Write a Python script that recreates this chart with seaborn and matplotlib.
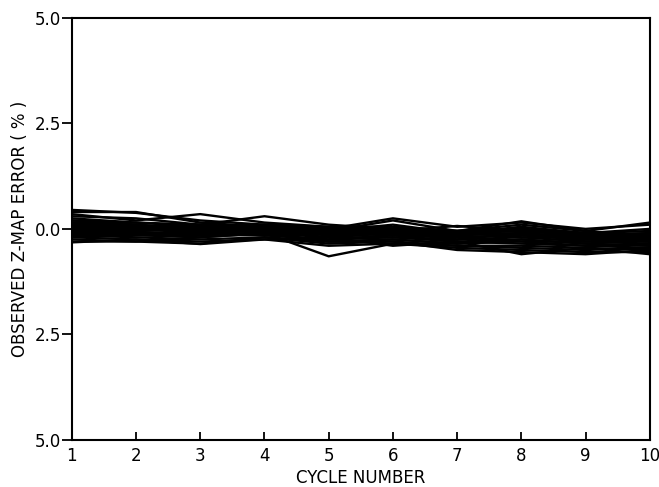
import numpy as np
import pandas as pd
import matplotlib
matplotlib.use("Agg")
import matplotlib.pyplot as plt
import seaborn as sns

cycles = [1, 2, 3, 4, 5, 6, 7, 8, 9, 10]

series = {
    "L1":  [0.45, 0.38, 0.20, 0.10, 0.05, 0.00, -0.05, 0.00, -0.10, -0.15],
    "L2":  [0.40, 0.40, 0.15, 0.05, 0.00, -0.05, -0.10, -0.05, -0.15, -0.10],
    "L3":  [0.35, 0.20, 0.35, 0.15, 0.05, 0.05, -0.05, 0.10, -0.05, -0.20],
    "L4":  [0.30, 0.25, 0.10, 0.30, 0.10, 0.00, -0.10, 0.00, -0.10, -0.05],
    "L5":  [0.25, 0.15, 0.05, 0.10, 0.00, 0.25, 0.05, 0.15, 0.00, 0.10],
    "L6":  [0.20, 0.10, 0.00, 0.00, -0.05, 0.20, -0.05, 0.18, -0.05, 0.15],
    "L7":  [0.15, 0.05, 0.05, -0.05, -0.10, -0.05, 0.07, -0.05, -0.15, -0.20],
    "L8":  [0.10, 0.00, -0.05, 0.05, -0.15, -0.10, -0.15, -0.10, -0.20, -0.25],
    "L9":  [0.05, 0.10, -0.10, -0.05, -0.10, -0.15, -0.20, -0.15, -0.25, -0.30],
    "L10": [0.00, -0.05, 0.00, -0.10, -0.20, -0.10, -0.25, -0.20, -0.30, -0.35],
    "L11": [-0.05, -0.10, -0.15, -0.15, -0.25, -0.20, -0.30, -0.25, -0.35, -0.40],
    "L12": [-0.10, -0.15, -0.20, -0.10, -0.30, -0.25, -0.35, -0.30, -0.40, -0.45],
    "L13": [-0.15, -0.20, -0.25, -0.20, -0.35, -0.30, -0.40, -0.40, -0.45, -0.50],
    "L14": [-0.20, -0.25, -0.30, -0.25, -0.40, -0.35, -0.45, -0.50, -0.55, -0.55],
    "L15": [-0.25, -0.30, -0.35, -0.20, -0.30, -0.30, -0.50, -0.55, -0.60, -0.50],
    "L16": [-0.30, -0.30, -0.20, -0.10, -0.65, -0.35, -0.40, -0.45, -0.50, -0.45],
    "L17": [-0.32, -0.25, -0.36, -0.25, -0.20, -0.40, -0.30, -0.60, -0.45, -0.60],
    "L18": [0.05, 0.00, 0.05, 0.00, -0.05, -0.10, -0.15, -0.10, -0.20, -0.25],
    "L19": [0.10, 0.05, 0.10, 0.00, 0.00, 0.00, -0.10, -0.05, -0.15, -0.10],
    "L20": [-0.05, 0.00, -0.05, -0.05, -0.15, -0.05, -0.20, -0.15, -0.25, -0.20],
    "L21": [0.00, 0.05, -0.10, 0.00, -0.10, -0.15, -0.05, -0.20, -0.20, -0.30],
    "L22": [-0.10, -0.05, 0.00, -0.05, -0.20, -0.20, -0.25, -0.10, -0.30, -0.25],
    "L23": [0.15, 0.10, 0.00, 0.05, -0.05, 0.10, -0.10, 0.05, -0.10, 0.00],
    "L24": [-0.15, -0.10, -0.10, -0.15, -0.25, -0.15, -0.30, -0.35, -0.40, -0.35],
    "L25": [0.20, 0.15, 0.10, 0.05, -0.05, -0.05, -0.05, -0.05, -0.10, -0.15],
    "L26": [-0.20, -0.15, -0.15, -0.10, -0.30, -0.25, -0.35, -0.25, -0.35, -0.40],
    "L27": [0.05, -0.05, 0.05, 0.10, 0.00, -0.05, -0.15, 0.00, -0.20, -0.15],
    "L28": [-0.05, -0.10, -0.05, 0.00, -0.15, -0.10, -0.20, -0.30, -0.30, -0.30],
}

ytick_values = [-5.0, -2.5, 0.0, 2.5, 5.0]
ytick_labels = ["5.0", "2.5", "0.0", "2.5", "5.0"]
xtick_values = cycles
xtick_labels = [str(c) for c in cycles]

rows = []
for name, vals in series.items():
    for c, v in zip(cycles, vals):
        rows.append({"run": name, "cycle": c, "error": v})
df = pd.DataFrame(rows)

sns.set_theme(style="ticks")
plt.rcParams["font.family"] = ["DejaVu Sans"]

fig = plt.figure(figsize=(6.59, 4.87), dpi=100)
ax = fig.add_axes([0.109, 0.097, 0.877, 0.866])

sns.lineplot(data=df, x="cycle", y="error", units="run", estimator=None,
             color="black", linewidth=1.7, ax=ax, legend=False)

ax.set_xlim(1, 10)
ax.set_ylim(-5, 5)
ax.set_yticks(ytick_values)
ax.set_yticklabels(ytick_labels)
ax.set_xticks(xtick_values)
ax.set_xticklabels(xtick_labels)

for s in ax.spines.values():
    s.set_visible(True)
    s.set_color("black")
    s.set_linewidth(1.5)

ax.tick_params(axis="y", direction="out", length=7, width=1.3, labelsize=12,
               colors="black", pad=1)
ax.tick_params(axis="x", direction="in", length=6, width=1.3, labelsize=12,
               colors="black", pad=5)

ax.set_xlabel("CYCLE NUMBER", fontsize=12, color="black", labelpad=3)
ax.set_ylabel("OBSERVED Z-MAP ERROR ( % )", fontsize=12, color="black", labelpad=4)

fig.savefig("out.png", dpi=100, facecolor="white")
